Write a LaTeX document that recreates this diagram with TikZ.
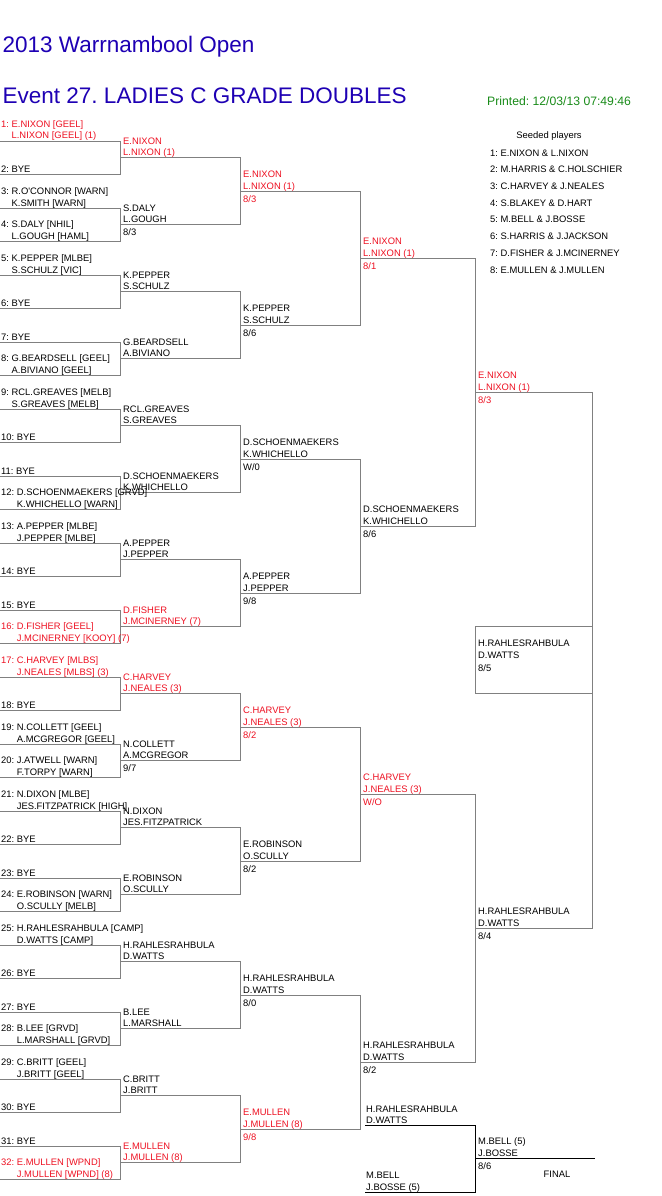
\documentclass[tikz,border=0pt]{standalone}
\usepackage{fontspec}
\setmainfont{Liberation Sans}
\usepackage{tikz}
\usetikzlibrary{positioning, calc}
\definecolor{titleblue}{HTML}{1E00B4}
\definecolor{seedred}{HTML}{EE1122}
\definecolor{printgreen}{HTML}{1A8C1A}
\definecolor{linegray}{HTML}{808080}
\frenchspacing

% first round entry: number, line 1, line 2, style
\newcommand{\drawentry}[4]{%
  \node[entry,#4] (e#1a) at ([xshift=1pt,yshift=13.8pt]a1-#1) {#1: #2};
  \node[entry,#4] (e#1b) at ([xshift=1pt,yshift=2.2pt]a1-#1) {\phantom{#1: }#3};
}
\newcommand{\drawbye}[1]{%
  \node[entry] (e#1b) at ([xshift=1pt,yshift=2.2pt]a1-#1) {#1: BYE};
}
% winner of a slot: round, slot, line 1, line 2, score, style
\newcommand{\drawwin}[6]{%
  \node[entry,#6] (w#1-#2a) at ([xshift=3pt,yshift=13.8pt]a#1-#2) {#3};
  \node[entry,#6] (w#1-#2b) at ([xshift=3pt,yshift=2.2pt]a#1-#2) {#4};
  \node[entry,#6] (w#1-#2c) at ([xshift=3pt,yshift=-10.8pt]a#1-#2) {#5};
}

\begin{document}
\begin{tikzpicture}[x=1pt, y=-1pt,
  bline/.style={draw=linegray, line width=1pt},
  fline/.style={draw=black, line width=1pt},
  entry/.style={anchor=base west, inner sep=0pt, font=\fontsize{9.4}{11}\selectfont},
  seeded/.style={text=seedred},
  unseeded/.style={text=black}]
  % Page background
  \fill[white] (0,0) rectangle (661,1196);
  \useasboundingbox (0,0) rectangle (661,1196);

  % Headings
  \node[anchor=base west, inner sep=0pt, text=titleblue, font=\fontsize{22.5}{24}\selectfont] (title) at (2.5,53) {2013 Warrnambool Open};
  \node[anchor=base west, inner sep=0pt, text=titleblue, font=\fontsize{22.5}{24}\selectfont] (event) at (2.5,103.5) {Event 27. LADIES C GRADE DOUBLES};
  \node[anchor=base west, inner sep=0pt, text=printgreen, font=\fontsize{12.2}{14}\selectfont] (printed) at (487,106) {Printed: 12/03/13 07:49:46};

  % Seeded players
  \node[entry, anchor=base] (seedhead) at (549,139) {Seeded players};
  \foreach \s/\pair [count=\i from 0] in {1/E.NIXON \& L.NIXON, 2/M.HARRIS \& C.HOLSCHIER, 3/C.HARVEY \& J.NEALES,
      4/S.BLAKEY \& D.HART, 5/M.BELL \& J.BOSSE, 6/S.HARRIS \& J.JACKSON, 7/D.FISHER \& J.MCINERNEY, 8/E.MULLEN \& J.MULLEN} {
    \node[entry] (seed\s) at (490,156.1+16.7*\i) {\s: \pair};
  }

  % Slot coordinates for every round
  \foreach \r/\xa/\xb in {1/0/120, 2/120/240, 3/240/360, 4/360/475, 5/475/592, 6/475/592} {
    \pgfmathtruncatemacro{\m}{2^(6-\r)}
    \pgfmathtruncatemacro{\w}{2^(\r-1)}
    \foreach \k in {1,...,\m} {
      \pgfmathsetmacro{\yy}{141.2+33.5*((\k-1)*\w+(\w-1)/2)}
      \coordinate (a\r-\k) at (\xa,\yy);
      \coordinate (b\r-\k) at (\xb,\yy);
    }
  }

  % Bracket lines
  \foreach \r in {1,...,5} {
    \pgfmathtruncatemacro{\m}{2^(5-\r)}
    \foreach \j in {1,...,\m} {
      \pgfmathtruncatemacro{\ua}{2*\j-1}
      \pgfmathtruncatemacro{\ub}{2*\j}
      \draw[bline] (a\r-\ua) -- (b\r-\ua) -- (b\r-\ub) -- (a\r-\ub);
    }
  }
  % Draw winner box
  \draw[bline] ([yshift=33.5pt]b6-1) -- ([yshift=33.5pt]a6-1) -- ([yshift=-33.5pt]a6-1) -- ([yshift=-33.5pt]b6-1);

  % Round 1
  \drawentry{1}{E.NIXON [GEEL]}{L.NIXON [GEEL] (1)}{seeded}
  \drawbye{2}
  \drawentry{3}{R.O\textquotesingle CONNOR [WARN]}{K.SMITH [WARN]}{unseeded}
  \drawentry{4}{S.DALY [NHIL]}{L.GOUGH [HAML]}{unseeded}
  \drawentry{5}{K.PEPPER [MLBE]}{S.SCHULZ [VIC]}{unseeded}
  \drawbye{6}
  \drawbye{7}
  \drawentry{8}{G.BEARDSELL [GEEL]}{A.BIVIANO [GEEL]}{unseeded}
  \drawentry{9}{RCL.GREAVES [MELB]}{S.GREAVES [MELB]}{unseeded}
  \drawbye{10}
  \drawbye{11}
  \drawentry{12}{D.SCHOENMAEKERS [GRVD]}{K.WHICHELLO [WARN]}{unseeded}
  \drawentry{13}{A.PEPPER [MLBE]}{J.PEPPER [MLBE]}{unseeded}
  \drawbye{14}
  \drawbye{15}
  \drawentry{16}{D.FISHER [GEEL]}{J.MCINERNEY [KOOY] (7)}{seeded}
  \drawentry{17}{C.HARVEY [MLBS]}{J.NEALES [MLBS] (3)}{seeded}
  \drawbye{18}
  \drawentry{19}{N.COLLETT [GEEL]}{A.MCGREGOR [GEEL]}{unseeded}
  \drawentry{20}{J.ATWELL [WARN]}{F.TORPY [WARN]}{unseeded}
  \drawentry{21}{N.DIXON [MLBE]}{JES.FITZPATRICK [HIGH]}{unseeded}
  \drawbye{22}
  \drawbye{23}
  \drawentry{24}{E.ROBINSON [WARN]}{O.SCULLY [MELB]}{unseeded}
  \drawentry{25}{H.RAHLESRAHBULA [CAMP]}{D.WATTS [CAMP]}{unseeded}
  \drawbye{26}
  \drawbye{27}
  \drawentry{28}{B.LEE [GRVD]}{L.MARSHALL [GRVD]}{unseeded}
  \drawentry{29}{C.BRITT [GEEL]}{J.BRITT [GEEL]}{unseeded}
  \drawbye{30}
  \drawbye{31}
  \drawentry{32}{E.MULLEN [WPND]}{J.MULLEN [WPND] (8)}{seeded}

  % Round 2
  \drawwin{2}{1}{E.NIXON}{L.NIXON (1)}{}{seeded}
  \drawwin{2}{2}{S.DALY}{L.GOUGH}{8/3}{unseeded}
  \drawwin{2}{3}{K.PEPPER}{S.SCHULZ}{}{unseeded}
  \drawwin{2}{4}{G.BEARDSELL}{A.BIVIANO}{}{unseeded}
  \drawwin{2}{5}{RCL.GREAVES}{S.GREAVES}{}{unseeded}
  \drawwin{2}{6}{D.SCHOENMAEKERS}{K.WHICHELLO}{}{unseeded}
  \drawwin{2}{7}{A.PEPPER}{J.PEPPER}{}{unseeded}
  \drawwin{2}{8}{D.FISHER}{J.MCINERNEY (7)}{}{seeded}
  \drawwin{2}{9}{C.HARVEY}{J.NEALES (3)}{}{seeded}
  \drawwin{2}{10}{N.COLLETT}{A.MCGREGOR}{9/7}{unseeded}
  \drawwin{2}{11}{N.DIXON}{JES.FITZPATRICK}{}{unseeded}
  \drawwin{2}{12}{E.ROBINSON}{O.SCULLY}{}{unseeded}
  \drawwin{2}{13}{H.RAHLESRAHBULA}{D.WATTS}{}{unseeded}
  \drawwin{2}{14}{B.LEE}{L.MARSHALL}{}{unseeded}
  \drawwin{2}{15}{C.BRITT}{J.BRITT}{}{unseeded}
  \drawwin{2}{16}{E.MULLEN}{J.MULLEN (8)}{}{seeded}

  % Round 3
  \drawwin{3}{1}{E.NIXON}{L.NIXON (1)}{8/3}{seeded}
  \drawwin{3}{2}{K.PEPPER}{S.SCHULZ}{8/6}{unseeded}
  \drawwin{3}{3}{D.SCHOENMAEKERS}{K.WHICHELLO}{W/0}{unseeded}
  \drawwin{3}{4}{A.PEPPER}{J.PEPPER}{9/8}{unseeded}
  \drawwin{3}{5}{C.HARVEY}{J.NEALES (3)}{8/2}{seeded}
  \drawwin{3}{6}{E.ROBINSON}{O.SCULLY}{8/2}{unseeded}
  \drawwin{3}{7}{H.RAHLESRAHBULA}{D.WATTS}{8/0}{unseeded}
  \drawwin{3}{8}{E.MULLEN}{J.MULLEN (8)}{9/8}{seeded}

  % Quarter and semi finals
  \drawwin{4}{1}{E.NIXON}{L.NIXON (1)}{8/1}{seeded}
  \drawwin{4}{2}{D.SCHOENMAEKERS}{K.WHICHELLO}{8/6}{unseeded}
  \drawwin{4}{3}{C.HARVEY}{J.NEALES (3)}{W/O}{seeded}
  \drawwin{4}{4}{H.RAHLESRAHBULA}{D.WATTS}{8/2}{unseeded}
  \drawwin{5}{1}{E.NIXON}{L.NIXON (1)}{8/3}{seeded}
  \drawwin{5}{2}{H.RAHLESRAHBULA}{D.WATTS}{8/4}{unseeded}
  \drawwin{6}{1}{H.RAHLESRAHBULA}{D.WATTS}{8/5}{unseeded}

  % Final
  \coordinate (fa1) at (365,1125.3);
  \coordinate (fb1) at (475,1125.3);
  \coordinate (fa2) at (365,1192);
  \coordinate (fb2) at (475,1192);
  \coordinate (fw) at (475,1158.65);
  \coordinate (fe) at (595,1158.65);
  \draw[fline] (fa1) -- (fb1) -- (fb2) -- (fa2);
  \draw[fline] (fw) -- (fe);
  \node[entry] (f1a) at ([xshift=1pt,yshift=13.2pt]fa1) {H.RAHLESRAHBULA};
  \node[entry] (f1b) at ([xshift=1pt,yshift=1.6pt]fa1) {D.WATTS};
  \node[entry] (f2a) at ([xshift=1pt,yshift=13.2pt]fa2) {M.BELL};
  \node[entry] (f2b) at ([xshift=1pt,yshift=1.6pt]fa2) {J.BOSSE (5)};
  \node[entry] (fwa) at ([xshift=3pt,yshift=13.8pt]fw) {M.BELL (5)};
  \node[entry] (fwb) at ([xshift=3pt,yshift=2.2pt]fw) {J.BOSSE};
  \node[entry] (fwc) at ([xshift=3pt,yshift=-10.8pt]fw) {8/6};
  \node[entry, anchor=center] (finallbl) at (557,1174.7) {FINAL};
\end{tikzpicture}
\end{document}
